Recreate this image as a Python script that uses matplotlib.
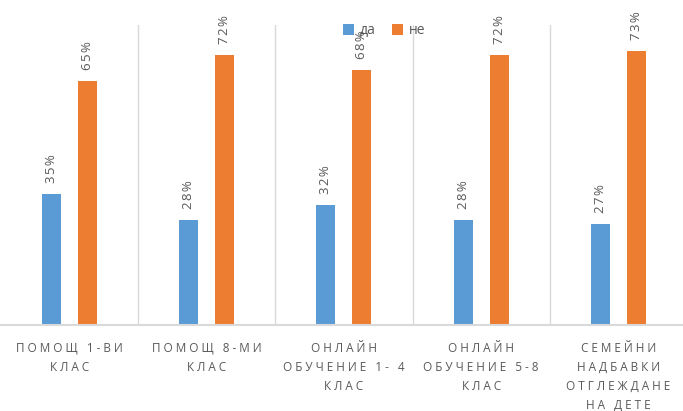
import numpy as np
import matplotlib.pyplot as plt

categories = ["ПОМОЩ 1-ВИ\nКЛАС", "ПОМОЩ 8-МИ\nКЛАС", "ОНЛАЙН\nОБУЧЕНИЕ 1- 4\nКЛАС",
              "ОНЛАЙН\nОБУЧЕНИЕ 5-8\nКЛАС", "СЕМЕЙНИ\nНАДБАВКИ\nОТГЛЕЖДАНЕ\nНА ДЕТЕ"]
da = [35, 28, 32, 28, 27]
ne = [65, 72, 68, 72, 73]

blue = '#5B9BD5'
orange = '#ED7D31'
grey = '#595959'
fam = ['Open Sans', 'DejaVu Sans']


def spaced(s, sep=" "):
    # imitate the letter spacing of the original labels
    return "\n".join(sep.join(line) for line in s.split("\n"))


fig = plt.figure(figsize=(6.83, 4.11), dpi=100)
ax = fig.add_axes([0.001, 0.209, 1.005, 0.730])

x = np.arange(len(categories))
w = 0.138
off = 0.131
b1 = ax.bar(x - off, da, w, color=blue, label='да', zorder=3)
b2 = ax.bar(x + off, ne, w, color=orange, label='не', zorder=3)

for bars in (b1, b2):
    for r in bars:
        ax.text(r.get_x() + r.get_width() / 2, r.get_height() + 3,
                spaced(f"{r.get_height():.0f}%", "\u200a"),
                rotation=90, ha='center', va='bottom', fontsize=9.5, color=grey,
                family=fam, clip_on=False)

ax.set_xlim(-0.5, len(categories) - 0.5)
ax.set_ylim(0, 80)
for b in np.arange(0.5, len(categories) - 0.5, 1):
    ax.axvline(b, color='#d9d9d9', lw=1, zorder=1)
ax.axhline(0, color='#d9d9d9', lw=1.5, zorder=4, clip_on=False)

ax.set_xticks(x)
ax.set_xticklabels([spaced(c) for c in categories], fontsize=8.5, color=grey,
                   family=fam, linespacing=1.6)
ax.tick_params(axis='x', length=0, pad=12)
ax.set_yticks([])
for s in ax.spines.values():
    s.set_visible(False)

fig.legend(loc='center', bbox_to_anchor=(0.562, 0.925), ncol=2, frameon=False,
           prop={'family': 'Open Sans', 'size': 10}, handlelength=0.8, handleheight=0.8,
           columnspacing=1.2, handletextpad=0.4, labelcolor=grey)

fig.savefig('out.png', dpi=100)
